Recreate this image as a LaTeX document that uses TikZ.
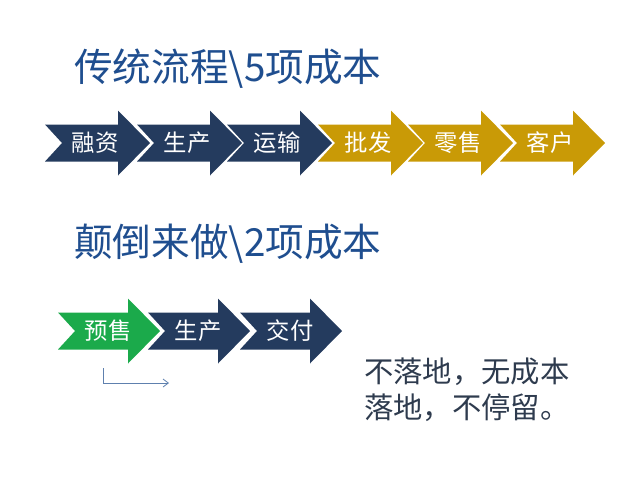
\documentclass[tikz,border=0pt]{standalone}
\usepackage{fontspec}
\usetikzlibrary{arrows.meta}
\newfontfamily\cjk{Noto Sans CJK SC}
\definecolor{navyflow}{HTML}{243B5E}
\definecolor{goldflow}{HTML}{C99A06}
\definecolor{greenflow}{HTML}{1BAA4B}
\definecolor{titleblue}{HTML}{1F4E8F}
\definecolor{notegray}{HTML}{2E3B4E}
\definecolor{linkblue}{HTML}{5E80AE}
\tikzset{
  chevron/.pic={
    \fill (0,-18.5) -- (\chevw-32,-18.5) -- (\chevw-32,-32.5) -- (\chevw,0)
          -- (\chevw-32,32.5) -- (\chevw-32,18.5) -- (0,18.5) -- (17,0) -- cycle;
  },
  steplabel/.style={text=white, font=\cjk\fontsize{17.5}{20}\selectfont, inner sep=0},
  headline/.style={text=titleblue, font=\cjk\fontsize{29}{34}\selectfont, anchor=west, inner sep=0},
  noteline/.style={text=notegray, font=\cjk\fontsize{22}{26}\selectfont, anchor=west, inner sep=0}
}
\begin{document}
\begin{tikzpicture}[x=0.75pt, y=-0.75pt]
	\useasboundingbox (0,0) rectangle (640,480);
	
	% Titles
	\node (titleA) [headline] at (74,69)  {传统流程\textbackslash 5项成本};
	\node (titleB) [headline] at (74,244) {颠倒来做\textbackslash 2项成本};
	
	% Traditional flow
	\def\chevw{105}
	\foreach \x/\col/\lab [count=\i] in {45/navyflow/融资,137/navyflow/生产,227/navyflow/运输,
	                                     318/goldflow/批发,408/goldflow/零售,500/goldflow/客户}{
		\pic [fill=\col] at (\x,143) {chevron};
		\node (stepA\i) [steplabel] at (\x+50,143) {\lab};
	}
	
	% Reversed flow
	\def\chevw{102}
	\foreach \x/\col/\lab [count=\i] in {58/greenflow/预售,148/navyflow/生产,240/navyflow/交付}{
		\pic [fill=\col] at (\x,331) {chevron};
		\node (stepB\i) [steplabel] at (\x+50,331) {\lab};
	}
	
	% Link
	\coordinate (linkA) at (103,368);
	\coordinate (linkB) at (169,383);
	\draw [linkblue, line width=0.6pt, -{Straight Barb[length=4pt,width=6pt]}]
	      (linkA) |- (linkB);
	
	% Notes
	\node (noteA) [noteline] at (364,372) {不落地，无成本};
	\node (noteB) [noteline] at (364,408) {落地，不停留。};
\end{tikzpicture}
\end{document}
